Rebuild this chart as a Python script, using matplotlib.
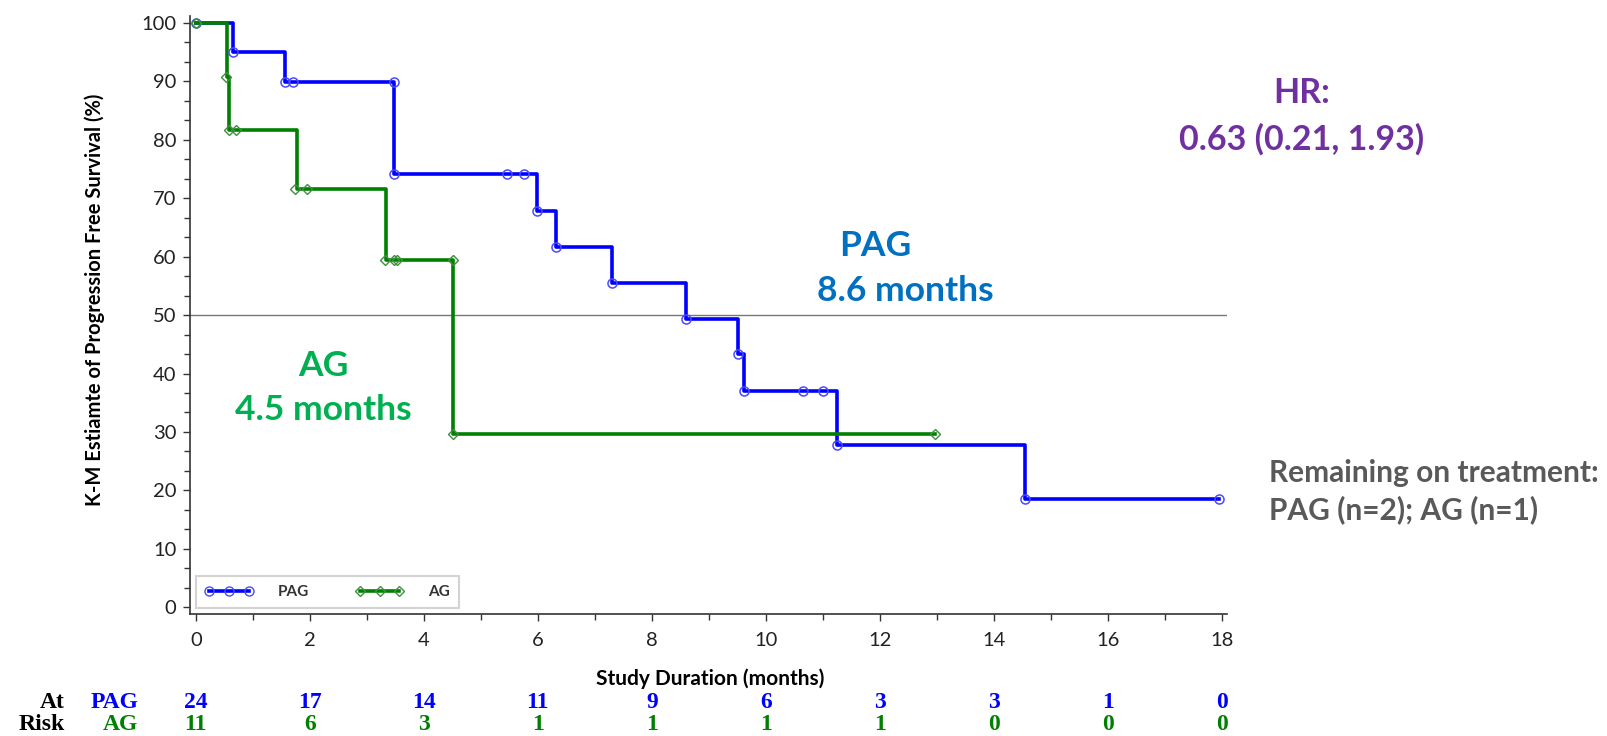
import matplotlib
matplotlib.use("Agg")
import matplotlib.pyplot as plt
from matplotlib.lines import Line2D
from matplotlib.transforms import blended_transform_factory

plt.rcParams["font.family"] = ["Lato", "DejaVu Sans"]

# ---- data ----
pag_t = [0, 0.65, 1.57, 3.47, 5.98, 6.32, 7.30, 8.60, 9.51, 9.61, 11.25, 14.55, 17.94]
pag_s = [100, 95.0, 89.9, 74.1, 67.8, 61.7, 55.5, 49.3, 43.3, 37.0, 27.8, 18.5, 18.5]
pag_mark_t = [0, 0.65, 1.57, 1.71, 3.47, 3.47, 5.46, 5.75, 5.98, 6.32, 7.30, 8.60,
              9.51, 9.61, 10.65, 11.00, 11.25, 14.55, 17.94]
pag_mark_s = [100, 95.0, 89.9, 89.9, 89.9, 74.1, 74.1, 74.1, 67.8, 61.7, 55.5, 49.3,
              43.3, 37.0, 37.0, 37.0, 27.8, 18.5, 18.5]

ag_t = [0, 0.55, 0.58, 1.77, 3.34, 4.52, 12.97]
ag_s = [100, 90.8, 81.7, 71.5, 59.5, 29.7, 29.7]
ag_mark_t = [0, 0.53, 0.58, 0.70, 1.74, 1.95, 3.32, 3.48, 3.53, 4.52, 4.52, 12.97]
ag_mark_s = [100, 90.8, 81.7, 81.7, 71.5, 71.5, 59.5, 59.5, 59.5, 59.5, 29.7, 29.7]

risk_times = [0, 2, 4, 6, 8, 10, 12, 14, 16, 18]
risk_pag = [24, 17, 14, 11, 9, 6, 3, 3, 1, 0]
risk_ag = [11, 6, 3, 1, 1, 1, 1, 0, 0, 0]

BLUE = "#0000ff"
GREEN = "#008000"
W, H = 1608, 736


def fx(px):
    return px / W


def fy(py):
    return 1 - py / H


fig = plt.figure(figsize=(W / 100, H / 100), dpi=100)
ax = fig.add_axes([0.1184, 0.1654, 0.6447, 0.8129])

ax.step(pag_t, pag_s, where="post", color=BLUE, lw=2.6, zorder=3)
ax.plot(pag_mark_t, pag_mark_s, ls="none", marker="o", ms=6.5, mfc="none",
        mec="#4a4aff", mew=1.1, zorder=4)
ax.step(ag_t, ag_s, where="post", color=GREEN, lw=2.6, zorder=3)
ax.plot(ag_mark_t, ag_mark_s, ls="none", marker="D", ms=4.8, mfc="none",
        mec="#3f8f3f", mew=1.0, zorder=4)

ax.axhline(50, color="#777777", lw=1.0, zorder=1)

ax.set_xlim(-0.095, 18.09)
ax.set_ylim(-1.2, 101.2)
ax.set_xticks(range(0, 19, 2))
ax.set_xticks(range(1, 19, 2), minor=True)
ax.set_yticks(range(0, 101, 10))
ax.set_yticks([v / 3 for v in range(0, 301, 10) if v % 30 != 0], minor=True)
for s in ("top", "right"):
    ax.spines[s].set_visible(False)
for s in ("left", "bottom"):
    ax.spines[s].set_color("#333333")
    ax.spines[s].set_linewidth(1.2)
ax.tick_params(which="major", length=5, width=1, color="#333333",
               labelsize=14.5, labelcolor="#222222", pad=5)
ax.tick_params(which="minor", length=4, width=1, color="#333333")
ax.tick_params(axis="x", which="major", pad=8)

# legend
h_pag = Line2D([], [], color=BLUE, lw=2.6, marker="o", ms=6.5, mfc="none", mec="#4a4aff")
h_ag = Line2D([], [], color=GREEN, lw=2.6, marker="D", ms=4.8, mfc="none", mec="#3f8f3f")
leg = ax.legend([h_pag, h_ag], ["PAG", "AG"], loc="lower left", bbox_to_anchor=(0.005, 0.01),
                borderaxespad=0, ncol=2, numpoints=3, handlelength=3.2, handletextpad=1.6,
                columnspacing=3.0, fontsize=11, fancybox=False, frameon=True,
                borderpad=0.6)
leg.get_frame().set_edgecolor("#c8c8c8")
leg.get_frame().set_linewidth(1.5)
for t in leg.get_texts():
    t.set_color("#333333")
    t.set_fontweight("bold")

# axis labels
fig.text(fx(710), fy(679), "Study Duration (months)", ha="center", va="center",
         fontsize=15, fontweight="bold")
fig.text(fx(95), fy(300), "K-M Estiamte of Progression Free Survival (%)", rotation=90,
         ha="center", va="center", fontsize=14.5, fontweight="bold")

# annotations
fig.text(fx(875), fy(246), "PAG", ha="center", va="center", fontsize=25.5,
         fontweight="bold", color="#0070c0")
fig.text(fx(905), fy(291), "8.6 months", ha="center", va="center", fontsize=25.5,
         fontweight="bold", color="#0070c0")
fig.text(fx(323), fy(366), "AG", ha="center", va="center", fontsize=25.5,
         fontweight="bold", color="#00b050")
fig.text(fx(323), fy(410), "4.5 months", ha="center", va="center", fontsize=25.5,
         fontweight="bold", color="#00b050")
fig.text(fx(1302), fy(93), "HR:", ha="center", va="center", fontsize=24.5,
         fontweight="bold", color="#7030a0")
fig.text(fx(1302), fy(139), "0.63 (0.21, 1.93)", ha="center", va="center", fontsize=24.5,
         fontweight="bold", color="#7030a0")
fig.text(fx(1269), fy(473), "Remaining on treatment:", ha="left", va="center", fontsize=21.5,
         fontweight="bold", color="#595959")
fig.text(fx(1269), fy(510), "PAG (n=2); AG (n=1)", ha="left", va="center", fontsize=21.5,
         fontweight="bold", color="#595959")

# number at risk table
serif = dict(family=["Liberation Serif", "DejaVu Serif"], fontweight="bold", fontsize=17)
fig.text(fx(65), fy(702), "At", ha="right", va="center", color="black", **serif)
fig.text(fx(65), fy(725), "Risk", ha="right", va="center", color="black", **serif)
fig.text(fx(138), fy(702), "PAG", ha="right", va="center", color=BLUE, **serif)
fig.text(fx(138), fy(725), "AG", ha="right", va="center", color=GREEN, **serif)
tr = blended_transform_factory(ax.transData, fig.transFigure)
for t, n in zip(risk_times, risk_pag):
    ax.text(t, fy(702), str(n), transform=tr, ha="center", va="center", color=BLUE,
            clip_on=False, **serif)
for t, n in zip(risk_times, risk_ag):
    ax.text(t, fy(725), str(n), transform=tr, ha="center", va="center", color=GREEN,
            clip_on=False, **serif)

fig.savefig("out.png", dpi=100)
